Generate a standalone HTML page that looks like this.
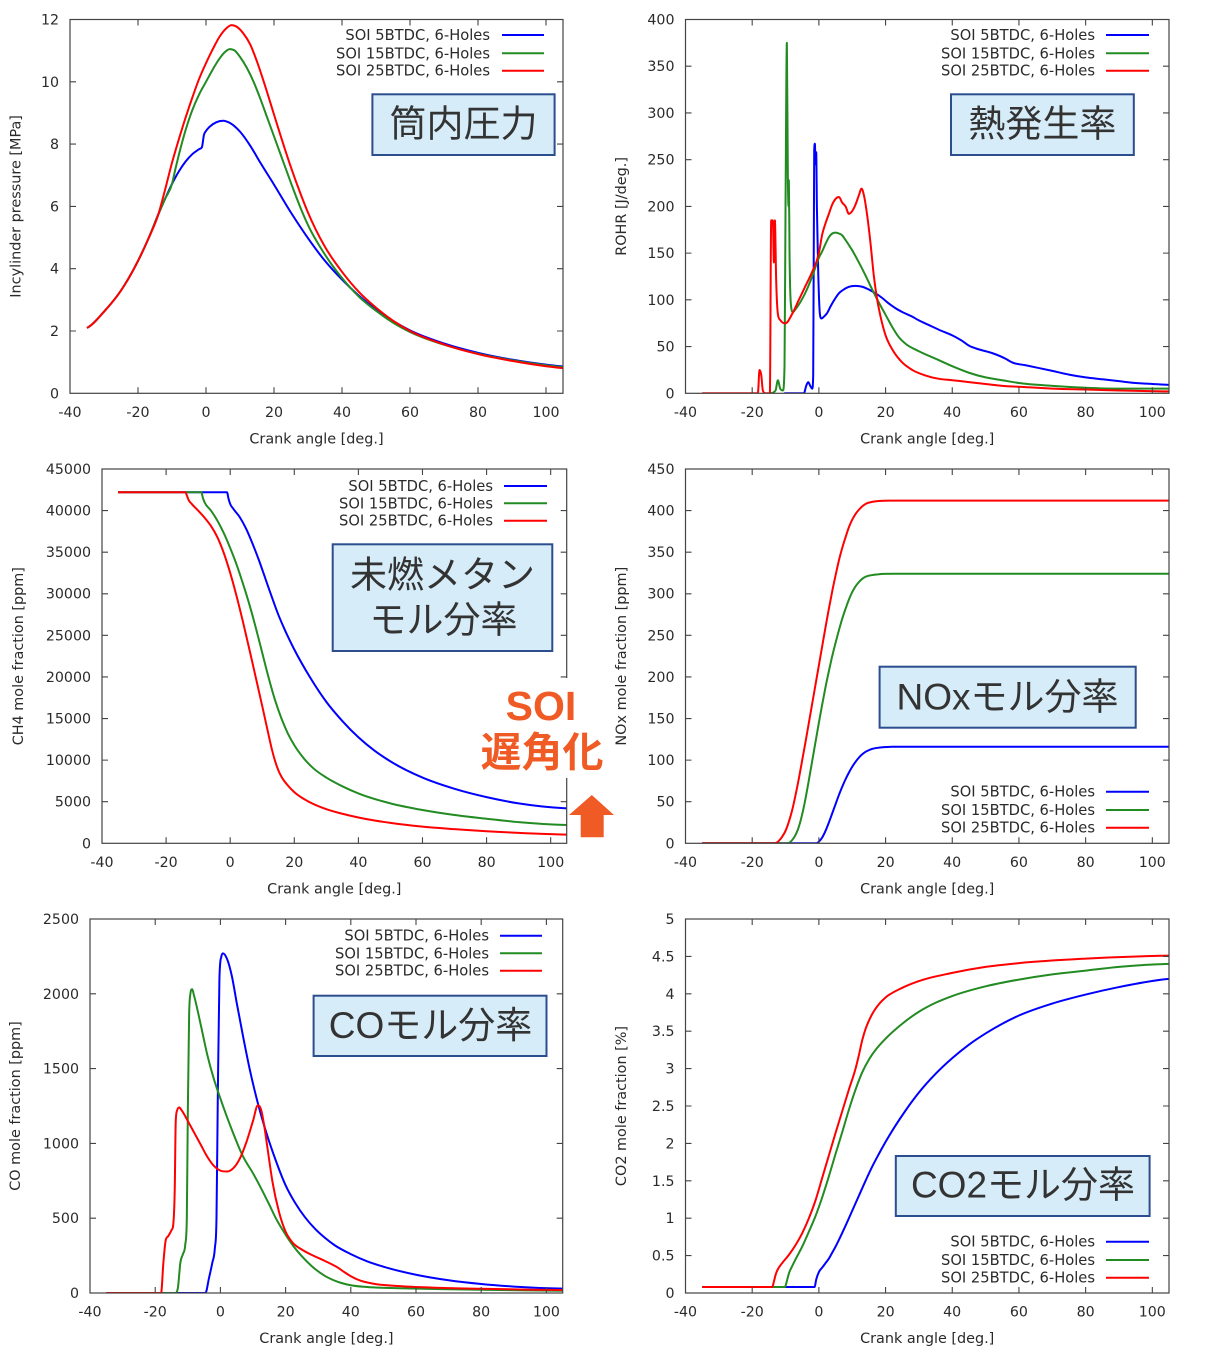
<!DOCTYPE html>
<html>
<head>
<meta charset="utf-8">
<style>
html,body{margin:0;padding:0;background:#fff;}
svg{display:block;}
.t{font-family:"DejaVu Sans","Liberation Sans",sans-serif;font-size:14.2px;fill:#2a2a2a;}
.xl{text-anchor:middle;}
.yl{text-anchor:end;}
.lab{font-family:"DejaVu Sans","Liberation Sans",sans-serif;font-size:14.4px;fill:#2a2a2a;text-anchor:middle;}
.leg{font-family:"DejaVu Sans","Liberation Sans",sans-serif;font-size:14.7px;fill:#2a2a2a;text-anchor:end;}
.box{fill:#d6ecf8;stroke:#2c4d8e;stroke-width:2;}
.bt{font-family:"Liberation Sans","Noto Sans CJK JP",sans-serif;font-size:37px;fill:#333;text-anchor:middle;}
.soi{font-family:"Liberation Sans","Noto Sans CJK JP",sans-serif;font-weight:bold;fill:#f05a24;text-anchor:middle;}
</style>
</head>
<body>
<svg id="s" width="1206" height="1350" viewBox="0 0 1206 1350">
<rect x="0" y="0" width="1206" height="1350" fill="#fff"/>
<g id="series"></g>
<g id="frames"></g>

<!-- Plot 1 -->
<g class="t xl">
<text x="70" y="416.8">-40</text><text x="138" y="416.8">-20</text><text x="206" y="416.8">0</text><text x="274" y="416.8">20</text><text x="342" y="416.8">40</text><text x="410" y="416.8">60</text><text x="478" y="416.8">80</text><text x="546" y="416.8">100</text>
</g>
<g class="t yl">
<text x="59" y="398.3">0</text><text x="59" y="336">2</text><text x="59" y="273.7">4</text><text x="59" y="211.4">6</text><text x="59" y="149.1">8</text><text x="59" y="86.8">10</text><text x="59" y="24.5">12</text>
</g>
<text class="lab" x="316.5" y="443.3">Crank angle [deg.]</text>
<text class="lab" transform="translate(20.5,206.4) rotate(-90)">Incylinder pressure [MPa]</text>
<g class="leg">
<text x="490" y="40">SOI 5BTDC, 6-Holes</text><text x="490" y="58.3">SOI 15BTDC, 6-Holes</text><text x="490" y="75.7">SOI 25BTDC, 6-Holes</text>
</g>
<line x1="502" y1="35" x2="544" y2="35" stroke="#0000ff" stroke-width="2"/>
<line x1="502" y1="53.3" x2="544" y2="53.3" stroke="#228b22" stroke-width="2"/>
<line x1="502" y1="70.7" x2="544" y2="70.7" stroke="#ff0000" stroke-width="2"/>
<rect class="box" x="372.4" y="94.3" width="182.2" height="60.7"/>
<text class="bt" x="463.5" y="136.5">筒内圧力</text>

<!-- Plot 2 -->
<g class="t xl">
<text x="685.5" y="416.8">-40</text><text x="752.2" y="416.8">-20</text><text x="818.9" y="416.8">0</text><text x="885.6" y="416.8">20</text><text x="952.2" y="416.8">40</text><text x="1018.9" y="416.8">60</text><text x="1085.6" y="416.8">80</text><text x="1152.3" y="416.8">100</text>
</g>
<g class="t yl">
<text x="674.5" y="398.3">0</text><text x="674.5" y="351.6">50</text><text x="674.5" y="304.9">100</text><text x="674.5" y="258.1">150</text><text x="674.5" y="211.4">200</text><text x="674.5" y="164.7">250</text><text x="674.5" y="118">300</text><text x="674.5" y="71.2">350</text><text x="674.5" y="24.5">400</text>
</g>
<text class="lab" x="927.2" y="443.3">Crank angle [deg.]</text>
<text class="lab" transform="translate(626,206.4) rotate(-90)">ROHR [J/deg.]</text>
<g class="leg">
<text x="1095" y="40">SOI 5BTDC, 6-Holes</text><text x="1095" y="58.3">SOI 15BTDC, 6-Holes</text><text x="1095" y="75.7">SOI 25BTDC, 6-Holes</text>
</g>
<line x1="1106" y1="35" x2="1149" y2="35" stroke="#0000ff" stroke-width="2"/>
<line x1="1106" y1="53.3" x2="1149" y2="53.3" stroke="#228b22" stroke-width="2"/>
<line x1="1106" y1="70.7" x2="1149" y2="70.7" stroke="#ff0000" stroke-width="2"/>
<rect class="box" x="951" y="94.3" width="182.8" height="60.7"/>
<text class="bt" x="1042.4" y="136.7">熱発生率</text>

<!-- Plot 3 -->
<g class="t xl">
<text x="102" y="866.8">-40</text><text x="166.1" y="866.8">-20</text><text x="230.2" y="866.8">0</text><text x="294.3" y="866.8">20</text><text x="358.4" y="866.8">40</text><text x="422.5" y="866.8">60</text><text x="486.6" y="866.8">80</text><text x="550.7" y="866.8">100</text>
</g>
<g class="t yl">
<text x="91" y="848.3">0</text><text x="91" y="806.7">5000</text><text x="91" y="765.1">10000</text><text x="91" y="723.5">15000</text><text x="91" y="681.9">20000</text><text x="91" y="640.3">25000</text><text x="91" y="598.7">30000</text><text x="91" y="557.1">35000</text><text x="91" y="515.6">40000</text><text x="91" y="474">45000</text>
</g>
<text class="lab" x="334.3" y="893.3">Crank angle [deg.]</text>
<text class="lab" transform="translate(23,656.2) rotate(-90)">CH4 mole fraction [ppm]</text>
<g class="leg">
<text x="493" y="491">SOI 5BTDC, 6-Holes</text><text x="493" y="508.3">SOI 15BTDC, 6-Holes</text><text x="493" y="525.7">SOI 25BTDC, 6-Holes</text>
</g>
<line x1="504" y1="486" x2="547" y2="486" stroke="#0000ff" stroke-width="2"/>
<line x1="504" y1="503.3" x2="547" y2="503.3" stroke="#228b22" stroke-width="2"/>
<line x1="504" y1="520.7" x2="547" y2="520.7" stroke="#ff0000" stroke-width="2"/>
<rect class="box" x="332.7" y="544.3" width="219.6" height="106.7"/>
<text class="bt" x="442.5" y="587.7">未燃メタン</text>
<text class="bt" x="443.5" y="632.7">モル分率</text>

<!-- SOI annotation -->
<rect x="470" y="678" width="142" height="100" fill="#fff"/>
<text class="soi" x="541" y="720" font-size="41">SOI</text>
<text class="soi" x="542" y="766.7" font-size="41">遅角化</text>
<polygon points="591.8,795 614,815 603.7,815 603.7,837.3 580.7,837.3 580.7,815 569,815" fill="#f05a24"/>

<!-- Plot 4 -->
<g class="t xl">
<text x="685.5" y="866.8">-40</text><text x="752.2" y="866.8">-20</text><text x="818.9" y="866.8">0</text><text x="885.6" y="866.8">20</text><text x="952.2" y="866.8">40</text><text x="1018.9" y="866.8">60</text><text x="1085.6" y="866.8">80</text><text x="1152.3" y="866.8">100</text>
</g>
<g class="t yl">
<text x="674.5" y="848.3">0</text><text x="674.5" y="806.7">50</text><text x="674.5" y="765.1">100</text><text x="674.5" y="723.5">150</text><text x="674.5" y="681.9">200</text><text x="674.5" y="640.3">250</text><text x="674.5" y="598.7">300</text><text x="674.5" y="557.1">350</text><text x="674.5" y="515.6">400</text><text x="674.5" y="474">450</text>
</g>
<text class="lab" x="927.2" y="893.3">Crank angle [deg.]</text>
<text class="lab" transform="translate(626,656.2) rotate(-90)">NOx mole fraction [ppm]</text>
<g class="leg">
<text x="1095" y="796.7">SOI 5BTDC, 6-Holes</text><text x="1095" y="815">SOI 15BTDC, 6-Holes</text><text x="1095" y="832.7">SOI 25BTDC, 6-Holes</text>
</g>
<line x1="1106" y1="791.7" x2="1149" y2="791.7" stroke="#0000ff" stroke-width="2"/>
<line x1="1106" y1="810" x2="1149" y2="810" stroke="#228b22" stroke-width="2"/>
<line x1="1106" y1="827.7" x2="1149" y2="827.7" stroke="#ff0000" stroke-width="2"/>
<rect class="box" x="879.6" y="666.7" width="256.1" height="61"/>
<text class="bt" x="1007.5" y="709.6">NOxモル分率</text>

<!-- Plot 5 -->
<g class="t xl">
<text x="90" y="1316.5">-40</text><text x="155.2" y="1316.5">-20</text><text x="220.4" y="1316.5">0</text><text x="285.6" y="1316.5">20</text><text x="350.8" y="1316.5">40</text><text x="416" y="1316.5">60</text><text x="481.2" y="1316.5">80</text><text x="546.4" y="1316.5">100</text>
</g>
<g class="t yl">
<text x="79" y="1298">0</text><text x="79" y="1223.2">500</text><text x="79" y="1148.4">1000</text><text x="79" y="1073.6">1500</text><text x="79" y="998.8">2000</text><text x="79" y="924">2500</text>
</g>
<text class="lab" x="326.4" y="1343">Crank angle [deg.]</text>
<text class="lab" transform="translate(20,1106) rotate(-90)">CO mole fraction [ppm]</text>
<g class="leg">
<text x="489" y="940.7">SOI 5BTDC, 6-Holes</text><text x="489" y="958.3">SOI 15BTDC, 6-Holes</text><text x="489" y="975.7">SOI 25BTDC, 6-Holes</text>
</g>
<line x1="500" y1="935.7" x2="542" y2="935.7" stroke="#0000ff" stroke-width="2"/>
<line x1="500" y1="953.3" x2="542" y2="953.3" stroke="#228b22" stroke-width="2"/>
<line x1="500" y1="970.7" x2="542" y2="970.7" stroke="#ff0000" stroke-width="2"/>
<rect class="box" x="313.6" y="995.7" width="232.9" height="60.3"/>
<text class="bt" x="430.5" y="1038">COモル分率</text>

<!-- Plot 6 -->
<g class="t xl">
<text x="685.5" y="1316.5">-40</text><text x="752.2" y="1316.5">-20</text><text x="818.9" y="1316.5">0</text><text x="885.6" y="1316.5">20</text><text x="952.2" y="1316.5">40</text><text x="1018.9" y="1316.5">60</text><text x="1085.6" y="1316.5">80</text><text x="1152.3" y="1316.5">100</text>
</g>
<g class="t yl">
<text x="674.5" y="1298">0</text><text x="674.5" y="1260.6">0.5</text><text x="674.5" y="1223.2">1</text><text x="674.5" y="1185.8">1.5</text><text x="674.5" y="1148.4">2</text><text x="674.5" y="1111">2.5</text><text x="674.5" y="1073.6">3</text><text x="674.5" y="1036.2">3.5</text><text x="674.5" y="998.8">4</text><text x="674.5" y="961.4">4.5</text><text x="674.5" y="924">5</text>
</g>
<text class="lab" x="927.2" y="1343">Crank angle [deg.]</text>
<text class="lab" transform="translate(626,1106) rotate(-90)">CO2 mole fraction [%]</text>
<g class="leg">
<text x="1095" y="1246.7">SOI 5BTDC, 6-Holes</text><text x="1095" y="1265">SOI 15BTDC, 6-Holes</text><text x="1095" y="1282.7">SOI 25BTDC, 6-Holes</text>
</g>
<line x1="1106" y1="1241.7" x2="1149" y2="1241.7" stroke="#0000ff" stroke-width="2"/>
<line x1="1106" y1="1260" x2="1149" y2="1260" stroke="#228b22" stroke-width="2"/>
<line x1="1106" y1="1277.7" x2="1149" y2="1277.7" stroke="#ff0000" stroke-width="2"/>
<rect class="box" x="895.8" y="1156" width="253.8" height="60"/>
<text class="bt" x="1023" y="1197.7">CO2モル分率</text>
</svg>

<script>
(function(){
var B='#0000ff',G='#228b22',R='#ff0000';
var P=[
{L:70,R:563,T:19.5,B:393.3,ymin:0,ymax:12,ys:2,
 s:[
 [B,[[-35,2.1],[-30,2.62],[-25,3.3],[-20,4.25],[-17,4.95],[-14,5.75],[-12,6.25],[-10,6.72],[-8,7.12],[-6,7.44],[-4,7.68],[-2,7.84],[-1.2,7.9],[-0.6,8.3],[0,8.42],[1,8.55],[3,8.7],[5,8.75],[7,8.68],[10,8.4],[13,7.95],[16,7.4],[20,6.7],[25,5.8],[30,4.98],[35,4.25],[40,3.65],[45,3.13],[50,2.69],[55,2.32],[60,2.02],[70,1.6],[80,1.3],[90,1.08],[100,0.92],[105,0.86]]],
 [G,[[-35,2.1],[-30,2.62],[-25,3.3],[-20,4.25],[-17,4.95],[-14,5.75],[-12,6.25],[-10,6.72],[-9,7.2],[-8,7.65],[-6,8.45],[-4,9.1],[-2,9.6],[0,10.0],[2,10.4],[4,10.75],[5.5,10.95],[7,11.05],[8.5,11.0],[10,10.8],[12,10.45],[14,10.0],[16,9.45],[18,8.85],[20,8.25],[22,7.65],[25,6.75],[28,5.9],[30,5.4],[35,4.45],[40,3.7],[45,3.1],[50,2.65],[55,2.27],[60,1.97],[70,1.56],[80,1.27],[90,1.06],[100,0.9],[105,0.84]]],
 [R,[[-35,2.1],[-30,2.62],[-25,3.3],[-20,4.25],[-17,4.95],[-14,5.75],[-12,6.55],[-10,7.4],[-8,8.15],[-6,8.85],[-4,9.5],[-2,10.1],[0,10.6],[2,11.05],[4,11.45],[6,11.72],[7.5,11.82],[9,11.77],[11,11.55],[13,11.2],[15,10.65],[17,10.0],[20,8.95],[22,8.25],[25,7.25],[28,6.35],[30,5.8],[35,4.7],[40,3.9],[45,3.25],[50,2.75],[55,2.33],[60,2.0],[70,1.57],[80,1.26],[90,1.04],[100,0.87],[105,0.81]]]
 ]},
{L:685.5,R:1169,T:19.5,B:393.3,ymin:0,ymax:400,ys:50,
 s:[
 [B,[[-10.4,0],[-4.5,0],[-3.8,8],[-3.2,12],[-2.6,8],[-2,5],[-1.7,20],[-1.4,260],[-1.2,267],[-1,245],[-0.8,258],[-0.6,200],[-0.2,130],[0.3,85],[0.8,80],[1.5,82],[2.5,86],[3.5,93],[5,102],[6,107],[7,110],[9,114],[11,115],[13,114],[15,111],[17,107],[19,102],[21,96],[23,91],[25,87],[28,82],[30,78],[33,73],[36,68],[40,62],[43,56],[45,51],[48,47],[52,43],[56,37],[58,33],[62,30],[66,27],[70,24],[75,20],[80,17],[85,15],[90,13],[95,11],[100,10],[105,9]]],
 [G,[[-14.6,0],[-13,3],[-12.3,14],[-11.6,5],[-10.8,3],[-10.3,30],[-10,200],[-9.6,375],[-9.3,230],[-9.1,200],[-9,228],[-8.8,150],[-8.3,92],[-7.8,87],[-7,90],[-6,95],[-4,108],[-2,125],[0,145],[1,152],[2,160],[3,167],[4,171],[5,172],[6,171],[7,169],[8,164],[10,153],[12,140],[14,126],[16,111],[18,97],[20,84],[22,71],[24,60],[26,53],[30,45],[35,37],[40,29],[45,22],[50,17],[55,14],[60,11],[70,8],[80,6],[90,5],[105,5]]],
 [R,[[-35,0],[-18.3,0],[-17.8,25],[-17.3,20],[-16.8,3],[-16,0],[-14.7,0],[-14.3,185],[-13.8,185],[-13.5,140],[-13.2,185],[-12.8,120],[-12.3,85],[-11.5,78],[-10,75],[-8,85],[-6,100],[-4,115],[-2,130],[0,150],[1,170],[2,182],[3,192],[4,202],[5,208],[6,210],[7,204],[8,200],[9,192],[10,195],[11,202],[12,212],[12.8,219],[13.5,212],[14.5,190],[15.5,160],[16.5,125],[17.5,100],[18.5,82],[20,62],[22,47],[25,33],[28,25],[32,19],[36,15.5],[40,14],[45,12],[50,10],[55,8],[60,7],[70,5],[80,4],[90,3],[105,2]]]
 ]},
{L:102,R:566.7,T:469,B:843.3,ymin:0,ymax:45000,ys:5000,
 s:[
 [B,[[-35,42200],[-1,42200],[-0.5,41400],[0,40800],[1,40200],[3,39200],[5,37800],[7,36000],[9,34000],[11,31800],[13,29600],[15,27500],[17,25700],[20,23300],[25,19900],[30,17000],[35,14700],[40,12750],[45,11150],[50,9850],[60,7900],[70,6550],[80,5550],[90,4800],[105,4200]]],
 [G,[[-35,42200],[-9,42200],[-8.5,41500],[-8,41000],[-6,40000],[-4,38800],[-2,37300],[0,35500],[2,33500],[4,31200],[6,28700],[8,25900],[10,22900],[12,19900],[14,17200],[16,15000],[18,13200],[20,11800],[23,10200],[26,9000],[30,7900],[35,6850],[40,6000],[50,4800],[60,4000],[70,3400],[80,2950],[90,2550],[105,2200]]],
 [R,[[-35,42200],[-14,42200],[-13.5,41800],[-13,41300],[-12,40800],[-10,40000],[-8,39150],[-6,38150],[-4,36800],[-2,34900],[0,32500],[2,29700],[4,26600],[6,23300],[8,19900],[10,16500],[12,13000],[13,11300],[14,9900],[15,8800],[16,8000],[18,6950],[20,6150],[25,4900],[30,4100],[35,3550],[40,3100],[50,2450],[60,2000],[70,1700],[80,1450],[90,1250],[105,1050]]]
 ]},
{L:685.5,R:1169,T:469,B:843.3,ymin:0,ymax:450,ys:50,
 s:[
 [B,[[-35,0],[-0.7,0],[0,2],[1,7],[2,15],[3,25],[4,36],[5,47],[6,58],[7,68],[8,77],[9,85],[10,92],[11,98],[12,103],[13,107],[14,110],[15,112],[16,113.5],[18,115],[22,116],[105,116]]],
 [G,[[-35,0],[-9.3,0],[-8,4],[-7,10],[-6,20],[-5,35],[-4,54],[-3,76],[-2,99],[-1,122],[0,145],[1,167],[2,188],[3,207],[4,225],[5,241],[6,256],[7,270],[8,282],[9,293],[10,302],[11,309],[12,314],[13,318],[14,320.5],[16,322.5],[18,323.5],[22,324],[105,324]]],
 [R,[[-35,0],[-13.3,0],[-12,3],[-11,8],[-10,15],[-9,26],[-8,40],[-7,58],[-6,78],[-5,100],[-4,122],[-3,145],[-2,168],[-1,191],[0,214],[1,237],[2,260],[3,282],[4,303],[5,322],[6,340],[7,355],[8,368],[9,380],[10,389],[11,396],[12,401],[13,405],[14,408],[16,410.5],[18,411.5],[22,412],[105,412]]]
 ]},
{L:90,R:562.7,T:919,B:1293,ymin:0,ymax:2500,ys:500,
 s:[
 [B,[[-35,0],[-4.6,0],[-3.5,100],[-2.5,200],[-1.7,300],[-1.2,500],[-0.8,1300],[-0.3,2100],[0.3,2250],[0.8,2270],[2,2235],[3.5,2120],[5,1940],[7,1710],[9,1495],[11,1310],[13,1150],[15,1010],[17,885],[20,720],[23,600],[26,505],[29,430],[32,370],[35,320],[40,260],[45,212],[50,176],[60,122],[70,85],[80,60],[90,43],[105,29]]],
 [G,[[-35,0],[-13.8,0],[-13,40],[-12.3,200],[-11.5,260],[-10.8,320],[-10.3,500],[-10,1200],[-9.6,1850],[-9.2,2000],[-8.7,2030],[-8,1980],[-6,1790],[-4,1590],[-2,1430],[0,1300],[3,1120],[7,910],[10,800],[12,720],[15,590],[17,500],[20,390],[22,325],[25,245],[28,180],[32,115],[36,75],[40,52],[45,40],[55,32],[70,25],[85,20],[105,15]]],
 [R,[[-35,0],[-18.2,0],[-17.5,200],[-16.8,350],[-16,380],[-15,420],[-14.5,450],[-14,700],[-13.7,1150],[-13.2,1225],[-12.6,1240],[-12,1225],[-10,1150],[-8,1070],[-6,990],[-4,910],[-2,850],[0,818],[2,812],[4,835],[6,900],[8,1010],[10,1150],[11.5,1255],[12.5,1225],[13.5,1110],[14.5,960],[16,740],[18,540],[20,410],[22,340],[25,290],[28,255],[32,215],[36,170],[38,140],[40,112],[43,82],[47,62],[55,46],[65,36],[80,28],[105,20]]]
 ]},
{L:685.5,R:1169,T:919,B:1293,ymin:0,ymax:5,ys:0.5,
 s:[
 [B,[[-35,0.08],[-1.3,0.08],[-0.8,0.18],[0,0.28],[1,0.34],[2,0.4],[3,0.46],[4,0.54],[5,0.62],[6,0.71],[8,0.9],[10,1.1],[12,1.3],[14,1.5],[16,1.69],[18,1.86],[20,2.02],[23,2.24],[26,2.44],[30,2.68],[35,2.93],[40,3.14],[45,3.32],[50,3.47],[55,3.6],[60,3.71],[70,3.87],[80,3.99],[90,4.09],[105,4.2]]],
 [G,[[-35,0.08],[-10.2,0.08],[-9.6,0.16],[-9,0.26],[-8,0.36],[-7,0.45],[-5,0.62],[-3,0.82],[-1,1.03],[1,1.28],[3,1.56],[5,1.86],[7,2.15],[9,2.45],[11,2.72],[13,2.95],[15,3.12],[17,3.25],[20,3.4],[25,3.6],[30,3.76],[35,3.88],[40,3.97],[50,4.1],[60,4.19],[70,4.26],[80,4.31],[90,4.36],[105,4.4]]],
 [R,[[-35,0.08],[-14,0.08],[-13.5,0.15],[-13,0.24],[-12.5,0.3],[-11,0.4],[-9,0.51],[-7,0.64],[-5,0.8],[-3,1.0],[-1,1.24],[1,1.54],[3,1.84],[5,2.14],[7,2.43],[9,2.72],[11,3.0],[12,3.18],[13,3.38],[14,3.53],[15,3.64],[16,3.73],[18,3.86],[20,3.95],[25,4.08],[30,4.17],[40,4.28],[50,4.36],[60,4.41],[80,4.47],[105,4.51]]]
 ]}
];
function X(p,v){return p.L+(v+40)/145*(p.R-p.L);}
function Y(p,v){return p.B-(v-p.ymin)/(p.ymax-p.ymin)*(p.B-p.T);}
function f(n){return n.toFixed(2);}
function path(p,pts){
 var n=pts.length,xs=[],ys=[],d=[],m=[],t=[],i;
 for(i=0;i<n;i++){xs.push(pts[i][0]);ys.push(pts[i][1]);}
 for(i=0;i<n-1;i++){d[i]=xs[i+1]-xs[i];m[i]=(ys[i+1]-ys[i])/d[i];}
 t[0]=0;t[n-1]=0;
 for(i=1;i<n-1;i++){
  if(m[i-1]*m[i]<=0){t[i]=0;}
  else{
   var q=(d[i]*m[i-1]+d[i-1]*m[i])/(d[i-1]+d[i]);
   var lim=3*Math.min(Math.abs(m[i-1]),Math.abs(m[i]));
   if(Math.abs(q)>lim)q=(q>0?1:-1)*lim;
   t[i]=q;
  }
 }
 t[0]=m[0]*0.5; t[n-1]=m[n-2]*0.5;
 if(Math.abs(m[0])>0&&t[1]!==undefined&&m[0]*t[1]<=0)t[0]=0;
 var s='M'+f(X(p,xs[0]))+' '+f(Y(p,ys[0]));
 for(i=0;i<n-1;i++){
  var h=d[i]/3;
  s+=' C'+f(X(p,xs[i]+h))+' '+f(Y(p,ys[i]+t[i]*h))+' '+f(X(p,xs[i+1]-h))+' '+f(Y(p,ys[i+1]-t[i+1]*h))+' '+f(X(p,xs[i+1]))+' '+f(Y(p,ys[i+1]));
 }
 return s;
}
var ser='',fr='';
P.forEach(function(p,k){
 ser+='<clipPath id="c'+k+'"><rect x="'+p.L+'" y="'+p.T+'" width="'+(p.R-p.L)+'" height="'+(p.B-p.T)+'"/></clipPath>';
 ser+='<g clip-path="url(#c'+k+')" fill="none" stroke-width="2" stroke-linejoin="round">';
 p.s.forEach(function(q){ser+='<path d="'+path(p,q[1])+'" stroke="'+q[0]+'"/>';});
 ser+='</g>';
 fr+='<rect x="'+p.L+'" y="'+p.T+'" width="'+(p.R-p.L)+'" height="'+(p.B-p.T)+'" fill="none" stroke="#444" stroke-width="1.2"/>';
 var tk='';
 for(var v=-20;v<=100;v+=20){var x=f(X(p,v));tk+='M'+x+' '+p.B+'V'+(p.B-6)+'M'+x+' '+p.T+'V'+(p.T+6);}
 var nT=Math.round((p.ymax-p.ymin)/p.ys);
 for(var j=1;j<nT;j++){var y=f(Y(p,p.ymin+j*p.ys));tk+='M'+p.L+' '+y+'H'+(p.L+6)+'M'+p.R+' '+y+'H'+(p.R-6);}
 fr+='<path d="'+tk+'" stroke="#444" stroke-width="1.1" fill="none"/>';
});
document.getElementById('series').insertAdjacentHTML('beforeend',ser);
document.getElementById('frames').insertAdjacentHTML('beforeend',fr);
})();
</script>
</body>
</html>
